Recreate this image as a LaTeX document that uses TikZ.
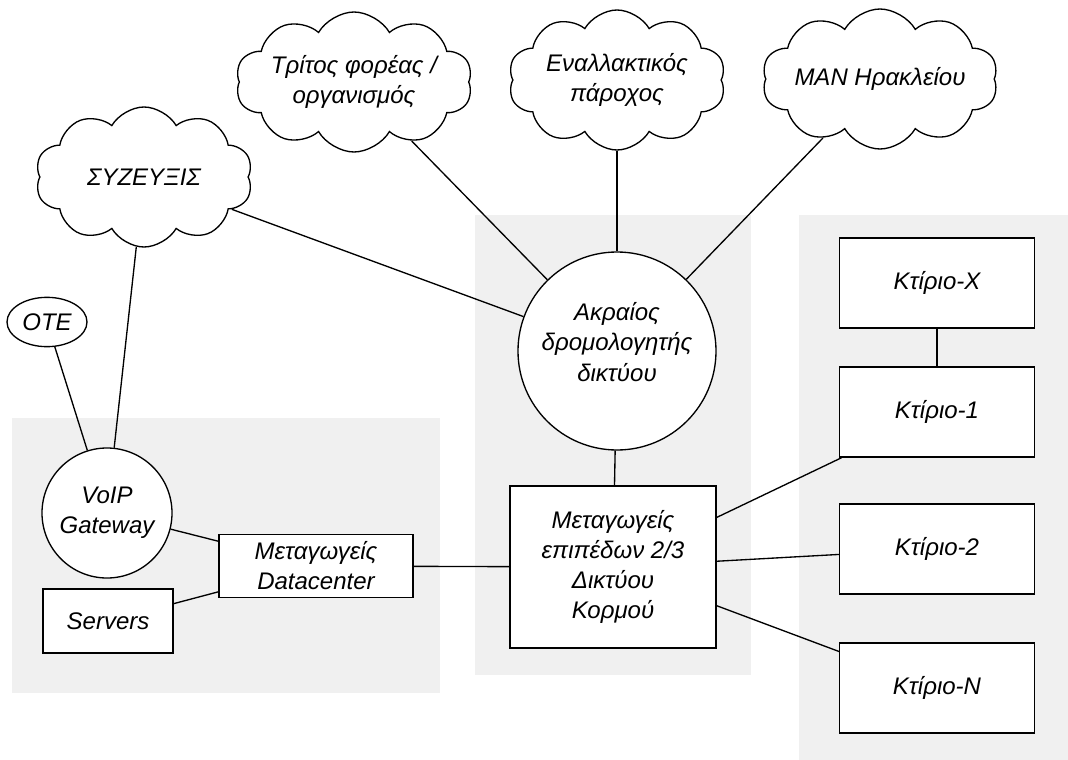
\documentclass[tikz,border=0pt]{standalone}
\usepackage{fontspec}
\setmainfont{Liberation Sans}
\usepackage{tikz}
\usetikzlibrary{shapes.geometric,shapes.symbols,positioning}
\definecolor{zonegray}{RGB}{240,240,240}

\begin{document}
\begin{tikzpicture}[x=0.75pt,y=-0.75pt,
    every node/.style={font=\itshape\fontsize{18}{22.5}\selectfont, align=center, inner sep=0pt},
    netcloud/.style={cloud, draw, fill=white, line width=1pt, cloud puffs=10, cloud puff arc=120,
      cloud ignores aspect, minimum width=163pt, minimum height=105pt},
    netbox/.style={rectangle, draw, fill=white, line width=1pt},
    netcircle/.style={circle, draw, fill=white, line width=1pt},
    link/.style={line width=1pt}]
        \useasboundingbox (0,0) rectangle (1068,760);
        % Grey zones
        \fill[zonegray] (12,418) rectangle (440,693);
        \fill[zonegray] (475,215) rectangle (751,675);
        \fill[zonegray] (799,215) rectangle (1068,760);
        % External networks
        \node[netcloud] (syz) at (144,177) {ΣΥΖΕΥΞΙΣ};
        \node[netcloud] (third) at (354,82) {Τρίτος φορέας /\\οργανισμός};
        \node[netcloud] (alt) at (617,80) {Εναλλακτικός\\πάροχος};
        \node[netcloud] (man) at (880,79) {MAN Ηρακλείου};
        \node[ellipse, draw, fill=white, line width=1pt, minimum width=60pt, minimum height=37pt] (ote) at (47,322) {OTE};
        % Datacenter zone
        \node[netcircle, minimum size=97.5pt] (voip) at (107,513) {VoIP\\Gateway};
        \node[netbox, minimum width=97.5pt, minimum height=48pt] (srv) at (108,621) {Servers};
        \node[netbox, minimum width=145.5pt, minimum height=47pt] (dc) at (316,566) {Μεταγωγείς\\Datacenter};
        % Core zone
        \node[netcircle, minimum size=148.5pt] (edge) at (617,351) {Ακραίος\\δρομολογητής\\[1pt]δικτύου\\[-9pt]\mbox{}};
        \node[netbox, minimum width=154.5pt, minimum height=121.5pt] (core) at (613,567) {Μεταγωγείς\\επιπέδων 2/3\\Δικτύου\\Κορμού};
        % Buildings
        \node[netbox, minimum width=146pt, minimum height=67.5pt] (bx) at (937,283) {Κτίριο-X};
        \node[netbox, minimum width=146pt, minimum height=67.5pt] (b1) at (937,412) {Κτίριο-1};
        \node[netbox, minimum width=146pt, minimum height=67.5pt] (b2) at (937,549) {Κτίριο-2};
        \node[netbox, minimum width=146pt, minimum height=67.5pt] (bn) at (937,688) {Κτίριο-N};
        % Links
        \draw[link] (syz) -- (voip);
        \draw[link] (ote) -- (voip);
        \draw[link] (syz) -- (edge);
        \draw[link] (third) -- (edge);
        \draw[link] (alt) -- (edge);
        \draw[link] (man) -- (edge);
        \draw[link] (edge) -- (core);
        \draw[link] (voip) -- (dc);
        \draw[link] (srv) -- (dc);
        \draw[link] (dc) -- (core);
        \draw[link] (core) -- (b1);
        \draw[link] (core) -- (b2);
        \draw[link] (core) -- (bn);
        \draw[link] (bx) -- (b1);
      \end{tikzpicture}
\end{document}
